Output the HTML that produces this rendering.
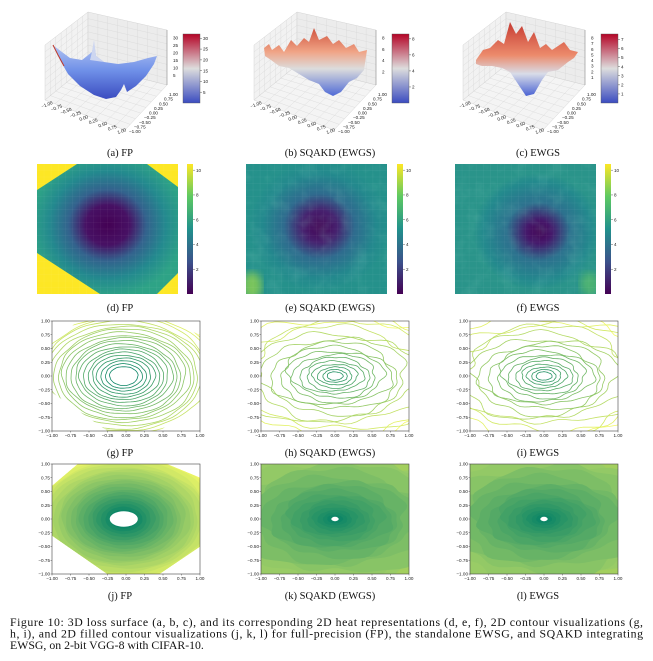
<!DOCTYPE html>
<html><head><meta charset="utf-8">
<style>
html,body{margin:0;padding:0;background:#fff;}
svg{display:block;font-family:"Liberation Sans",sans-serif;}
.cap{font-family:"Liberation Serif",serif;font-size:10.5px;fill:#111;}
.tk{font-size:4.6px;fill:#222;}
</style></head>
<body>
<svg id="fig" width="653" height="661" viewBox="0 0 653 661" xmlns="http://www.w3.org/2000/svg">
<defs>
 <linearGradient id="viridis" x1="0" y1="1" x2="0" y2="0">
  <stop offset="0" stop-color="#440154"/><stop offset="0.25" stop-color="#3b528b"/>
  <stop offset="0.5" stop-color="#21918c"/><stop offset="0.75" stop-color="#5ec962"/>
  <stop offset="1" stop-color="#fde725"/></linearGradient>
 <linearGradient id="coolwarm" x1="0" y1="1" x2="0" y2="0">
  <stop offset="0" stop-color="#3b4cc0"/><stop offset="0.5" stop-color="#dddddd"/>
  <stop offset="1" stop-color="#b40426"/></linearGradient>
 <linearGradient id="bowl" x1="0" y1="0" x2="0" y2="1">
  <stop offset="0" stop-color="#b9c9f3"/><stop offset="0.5" stop-color="#6f90e8"/><stop offset="1" stop-color="#3b4cc0"/></linearGradient>
 <linearGradient id="rough" x1="0" y1="0" x2="0" y2="1">
  <stop offset="0" stop-color="#d0543f"/><stop offset="0.35" stop-color="#f0a486"/><stop offset="0.6" stop-color="#dcdcdc"/><stop offset="1" stop-color="#4f6ad6"/></linearGradient>
 <linearGradient id="rough2" x1="0" y1="0" x2="0" y2="1">
  <stop offset="0" stop-color="#c63a31"/><stop offset="0.45" stop-color="#ec8b6c"/><stop offset="0.7" stop-color="#d8dce8"/><stop offset="1" stop-color="#4a63d3"/></linearGradient>
 <radialGradient id="hmFP" cx="0.5" cy="0.47" r="0.55">
  <stop offset="0" stop-color="#440154"/><stop offset="0.28" stop-color="#471164"/>
  <stop offset="0.5" stop-color="#33628d"/><stop offset="0.75" stop-color="#23898e"/><stop offset="1" stop-color="#2ea386"/></radialGradient>
 <radialGradient id="hmE" cx="0.52" cy="0.48" r="0.5">
  <stop offset="0" stop-color="#440154"/><stop offset="0.25" stop-color="#46226f"/>
  <stop offset="0.5" stop-color="#2f6b8e"/><stop offset="0.8" stop-color="#23888d"/><stop offset="1" stop-color="#25918b"/></radialGradient>
 <radialGradient id="hmF" cx="0.58" cy="0.52" r="0.45" fx="0.6">
  <stop offset="0" stop-color="#440154"/><stop offset="0.2" stop-color="#45196b"/>
  <stop offset="0.5" stop-color="#2d718e"/><stop offset="0.85" stop-color="#23898d"/><stop offset="1" stop-color="#2a948a"/></radialGradient>
 <filter id="noise" x="0" y="0" width="100%" height="100%">
  <feTurbulence type="fractalNoise" baseFrequency="0.06" numOctaves="3" seed="4"/>
  <feColorMatrix values="0 0 0 0 0.2  0 0 0 0 0.6  0 0 0 0 0.5  0 0 0 1.2 -0.55"/>
  <feComposite in2="SourceGraphic" operator="in"/></filter>
 <filter id="blur2"><feGaussianBlur stdDeviation="4"/></filter>
</defs>
<g id="root"></g>
</svg>
<script>
const NS="http://www.w3.org/2000/svg";
const root=document.getElementById('root');
// ---------- data ----------
const cbTicks3D=[[5,10,15,20,25,30],[2,4,6,8],[1,2,3,4,5,6,7]];
const cbMax3D=[32,8.6,7.6];
const zTicks3D=[[5,10,15,20,25,30],[2,4,6,8],[1,2,3,4,5,6,7,8]];
const hmTicks=[2,4,6,8,10];
const hmMax=10.5;
const axTicks=[-1.0,-0.75,-0.5,-0.25,0.0,0.25,0.5,0.75,1.0];
const fpLevels=[0.5,1,1.5,2,2.5,3,3.5,4,4.5,5,5.5,6,6.5,7,7.5,8,8.5,9,9.5,10,10.5,11];
const roughLevels=[0.4,0.8,1.2,1.6,2,2.4,2.8,3.2,3.6,4,4.5,5,5.5,6,6.5,7];
const captions=[["(a) FP","(b) SQAKD (EWGS)","(c) EWGS"],["(d) FP","(e) SQAKD (EWGS)","(f) EWGS"],["(g) FP","(h) SQAKD (EWGS)","(i) EWGS"],["(j) FP","(k) SQAKD (EWGS)","(l) EWGS"]];
const capY=[156,311,456,599];
const capX=[120,330,538];
// ---------- helpers ----------
function el(tag,attrs,parent){const e=document.createElementNS(NS,tag);for(const k in attrs)e.setAttribute(k,attrs[k]);(parent||root).appendChild(e);return e;}
function txt(s,x,y,cls,anchor,parent){const t=el('text',{x:x,y:y,class:cls,'text-anchor':anchor||'start'},parent);t.textContent=s;return t;}
function fmt(v){return (v<0?'\u2212':'')+Math.abs(v).toFixed(2);}
function lerp(a,b,t){return a+(b-a)*t;}
function summer(t){const r=Math.round(255*t),g=Math.round(255*(0.5+0.5*t)),b=Math.round(255*0.4);return `rgb(${r},${g},${b})`;}
const colX=[0,209,418];
// ---------- row 1 : 3D ----------
for(let p=0;p<3;p++){
 const g=el('g',{transform:`translate(${colX[p]},0)`});
 
 
 el('polygon',{points:'45,45 88,12 88,65 45,100',fill:'#f2f2f2',stroke:'#ccc','stroke-width':0.4},g);
 el('polygon',{points:'88,12 167,30 167,85 88,65',fill:'#ececec',stroke:'#ccc','stroke-width':0.4},g);
 el('polygon',{points:'45,100 88,65 167,85 125,130',fill:'#f4f4f4',stroke:'#ccc','stroke-width':0.4},g);
 for(let i=1;i<8;i++){const t=i/8;
  el('line',{x1:lerp(45,88,t),y1:lerp(45,12,t),x2:lerp(45,88,t),y2:lerp(100,65,t),stroke:'#d8d8d8','stroke-width':0.4},g);
  el('line',{x1:lerp(88,167,t),y1:lerp(12,30,t),x2:lerp(88,167,t),y2:lerp(65,85,t),stroke:'#d8d8d8','stroke-width':0.4},g);
  el('line',{x1:45,y1:lerp(45,100,t),x2:88,y2:lerp(12,65,t),stroke:'#d8d8d8','stroke-width':0.4},g);
  el('line',{x1:88,y1:lerp(12,65,t),x2:167,y2:lerp(30,85,t),stroke:'#d8d8d8','stroke-width':0.4},g);
  el('line',{x1:lerp(45,125,t),y1:lerp(100,130,t),x2:lerp(88,167,t),y2:lerp(65,85,t),stroke:'#d8d8d8','stroke-width':0.4},g);
  el('line',{x1:lerp(45,88,t),y1:lerp(100,65,t),x2:lerp(125,167,t),y2:lerp(130,85,t),stroke:'#d8d8d8','stroke-width':0.4},g);
 }
 let pts;
 if(p===0){
  pts='54,46 60,60 68,74 80,86 94,95 106,99 116,97 121,90 124,84 127,92 136,86 146,76 154,64 157,56 148,58 134,62 118,64 104,62 96,56 94,42 92,52 82,60 70,58 62,52';
  el('polygon',{points:pts,fill:'url(#bowl)'},g);
  el('polygon',{points:'92,52 94,40 96,56 104,62 90,60',fill:'#cdd6f0'},g);
  el('polyline',{points:'53,45 58,55 64,66',fill:'none',stroke:'#c0392b','stroke-width':1},g);
 } else {
  const top=p===1?[[55,48],[60,44],[63,50],[70,45],[75,52],[82,40],[88,46],[95,38],[100,42],[105,28],[110,40],[118,36],[124,44],[130,40],[137,48],[145,44],[150,52],[158,50]]
                 :[[58,60],[65,50],[72,48],[80,40],[86,44],[92,22],[98,34],[104,26],[110,42],[116,32],[122,48],[128,44],[134,50],[140,46],[146,42],[152,50],[160,52],[156,58]];
  const bot=p===1?[[155,70],[148,78],[140,82],[132,92],[124,96],[116,92],[110,84],[100,80],[90,74],[80,68],[70,66],[62,60],[56,56]]
                 :[[150,62],[140,70],[130,72],[124,80],[116,94],[108,96],[100,84],[92,72],[84,68],[74,66],[64,66],[58,64]];
  pts=top.concat(bot).map(q=>q.join(',')).join(' ');
  el('polygon',{points:pts,fill:p===1?'url(#rough)':'url(#rough2)'},g);
 }
 const zt=zTicks3D[p];
 zt.forEach(v=>{const t=v/(zt[zt.length-1]*1.07);const y=lerp(83,35,t);txt(String(v),173,y+1.5,'tk','start',g);});
 el('line',{x1:167,y1:30,x2:167,y2:85,stroke:'#666','stroke-width':0.4},g);
 axTicks.forEach((v,i)=>{const t=i/8;const x=lerp(42,118,t),y=lerp(108,134,t);
  txt(fmt(v),x,y,'tk','start',g).setAttribute('transform',`rotate(-20 ${x} ${y})`);});
 axTicks.forEach((v,i)=>{const t=i/8;const x=lerp(127,167,t),y=lerp(133,96,t);txt(fmt(v),x+2,y,'tk','start',g);});
 const cb=el('rect',{x:183,y:34,width:17,height:69,fill:'url(#coolwarm)',stroke:'#555','stroke-width':0.4},g);
 
 
 cbTicks3D[p].forEach(v=>{const y=103-69*v/cbMax3D[p];
  el('line',{x1:200,y1:y,x2:202,y2:y,stroke:'#333','stroke-width':0.4},g);
  txt(String(v),203,y+1.6,'tk','start',g);});
}
// ---------- row 2 : heatmaps ----------
const hmX=[37,246,455],hmY=164,hmW=141,hmH=130;
for(let p=0;p<3;p++){
 const x0=hmX[p];
 const g=el('g',{});
 
 
 const cp=el('clipPath',{id:'hmclip'+p},g);
 el('rect',{x:x0,y:hmY,width:hmW,height:hmH},cp);
 const inner=el('g',{'clip-path':`url(#hmclip${p})`},g);
 if(p===0){
  el('rect',{x:x0,y:hmY,width:hmW,height:hmH,fill:'#fde725'},inner);
  const oct=[[77,164],[147,164],[178,187],[178,273],[157,294],[100,294],[37,253],[37,190]];
  el('polygon',{points:oct.map(q=>q.join(',')).join(' '),fill:'url(#hmFP)'},inner);
 } else {
  el('rect',{x:x0,y:hmY,width:hmW,height:hmH,fill:p===1?'url(#hmE)':'url(#hmF)'},inner);
  el('rect',{x:x0,y:hmY,width:hmW,height:hmH,fill:'#fff',filter:'url(#noise)',opacity:0.35},inner);
  if(p===1) el('ellipse',{cx:x0+6,cy:hmY+hmH-8,rx:10,ry:14,fill:'#8fd14f',filter:'url(#blur2)',opacity:0.8},inner);
  else el('ellipse',{cx:x0+hmW-6,cy:hmY+hmH-10,rx:10,ry:12,fill:'#6ccd5a',filter:'url(#blur2)',opacity:0.5},inner);
 }
 for(let i=1;i<20;i++){el('line',{x1:x0+i*hmW/20,y1:hmY,x2:x0+i*hmW/20,y2:hmY+hmH,stroke:'#fff','stroke-opacity':0.07,'stroke-width':0.5},inner);
  el('line',{x1:x0,y1:hmY+i*hmH/20,x2:x0+hmW,y2:hmY+i*hmH/20,stroke:'#fff','stroke-opacity':0.07,'stroke-width':0.5},inner);}
 const cx=[187,397,605][p];
 const cb=el('rect',{x:cx,y:hmY,width:6,height:hmH,fill:'url(#viridis)'},g);
 
 
 hmTicks.forEach(v=>{const y=hmY+hmH-hmH*v/hmMax;
  el('line',{x1:cx+6,y1:y,x2:cx+8,y2:y,stroke:'#333','stroke-width':0.4},g);
  txt(String(v),cx+9,y+1.6,'tk','start',g);});
}
// ---------- rows 3 & 4 : contour plots ----------
const axX=[52,261,470],axW=148,rowY=[321,464],axH=110;
function sx(p,v){return axX[p]+(v+1)/2*axW;}
function sy(r,v){return rowY[r]+(1-v)/2*axH;}
function blobPath(p,r,cxv,cyv,rx,ry,wob,k){
 let d='';for(let i=0;i<=90;i++){const a=i/90*2*Math.PI;
  const f=1+wob*(Math.sin(3*a+k)*0.5+Math.sin(7*a+2*k)*0.3+Math.sin(13*a+k*3)*0.2);
  const X=sx(p,cxv+rx*f*Math.cos(a)),Y=sy(r,cyv+ry*f*Math.sin(a));d+=(i?'L':'M')+X.toFixed(1)+','+Y.toFixed(1);}
 return d+'Z';}
const octFP=[[-0.65,1],[0.55,1],[1,0.75],[1,-0.5],[0.45,-1],[-0.25,-1],[-1,-0.3],[-1,0.6]];
for(let r=0;r<2;r++){
 for(let p=0;p<3;p++){
  const g=el('g',{});
  
  
  const cid='clip'+r+p;
  const cp=el('clipPath',{id:cid},g);
  if(p===0) el('polygon',{points:octFP.map(q=>sx(p,q[0])+','+sy(r,q[1])).join(' ')},cp);
  else el('rect',{x:axX[p],y:rowY[r],width:axW,height:axH},cp);
  const inner=el('g',{'clip-path':`url(#${cid})`},g);
  const lv=p===0?fpLevels:roughLevels;
  const n=lv.length,maxL=lv[n-1];
  const cxv=p===0?-0.03:0.0;
  if(r===1){
   el('rect',{x:axX[p],y:rowY[r],width:axW,height:axH,fill:p===0?'#ffff66':'#a3cf5e'},inner);
   if(p>0){el('ellipse',{cx:axX[p]+12,cy:rowY[r]+axH-10,rx:18,ry:14,fill:'#d4e46a',filter:'url(#blur2)'},inner);
     el('ellipse',{cx:axX[p]+axW-25,cy:rowY[r]+35,rx:16,ry:14,fill:'#c0dc68',filter:'url(#blur2)'},inner);
     el('ellipse',{cx:axX[p]+30,cy:rowY[r]+12,rx:20,ry:10,fill:'#bcd966',filter:'url(#blur2)'},inner);}
  }
  for(let i=n-1;i>=0;i--){
   const t=lv[i]/maxL;
   const sc=p===0?(0.14+1.35*t):(0.08+1.9*Math.pow(t,1.3));
   const rx=sc*(p===0?0.95:0.85),ry=sc*(p===0?0.85:0.6);
   const d=blobPath(p,r,cxv,0,rx,ry,p===0?0.03:0.05+0.12*t,i*1.7+p);
   let col;
   if(p===0) col=summer(t);
   else col=r===0?summer(Math.min(1,0.1+0.85*t)):summer(Math.min(0.6,0.02+0.6*t));
   if(r===0) el('path',{d:d,fill:'none',stroke:col,'stroke-width':0.8},inner);
   else el('path',{d:d,fill:col,stroke:'none'},inner);
  }
  if(r===1){
   const hr=p===0?[0.19,0.14]:[0.05,0.04];
   el('ellipse',{cx:sx(p,cxv),cy:sy(r,0),rx:hr[0]*axW/2,ry:hr[1]*axH/2,fill:'#fff'},inner);
  }
  el('rect',{x:axX[p],y:rowY[r],width:axW,height:axH,fill:'none',stroke:'#444','stroke-width':0.6},g);
  axTicks.forEach(v=>{const X=sx(p,v),Y=sy(r,v);
   el('line',{x1:X,y1:rowY[r]+axH,x2:X,y2:rowY[r]+axH+1.5,stroke:'#333','stroke-width':0.4},g);
   txt(fmt(v),X,rowY[r]+axH+6,'tk','middle',g);
   el('line',{x1:axX[p]-1.5,y1:Y,x2:axX[p],y2:Y,stroke:'#333','stroke-width':0.4},g);
   txt(fmt(v),axX[p]-2,Y+1.6,'tk','end',g);});
 }
}
// ---------- captions ----------
for(let r=0;r<4;r++)for(let p=0;p<3;p++){
 const t=txt(captions[r][p],capX[p],capY[r],'cap','middle');
 
 
}
const lines=["Figure 10: 3D loss surface (a, b, c), and its corresponding 2D heat representations (d, e, f), 2D contour visualizations (g,",
"h, i), and 2D filled contour visualizations (j, k, l) for full-precision (FP), the standalone EWSG, and SQAKD integrating",
"EWSG, on 2-bit VGG-8 with CIFAR-10."];
lines.forEach((s,i)=>{const t=txt(s,10,626+i*11.6,'cap','start');t.style.fontSize='11.8px';
 if(i<2){t.setAttribute('textLength',633);t.setAttribute('lengthAdjust','spacing');}
 
 });
</script>
</body></html>
